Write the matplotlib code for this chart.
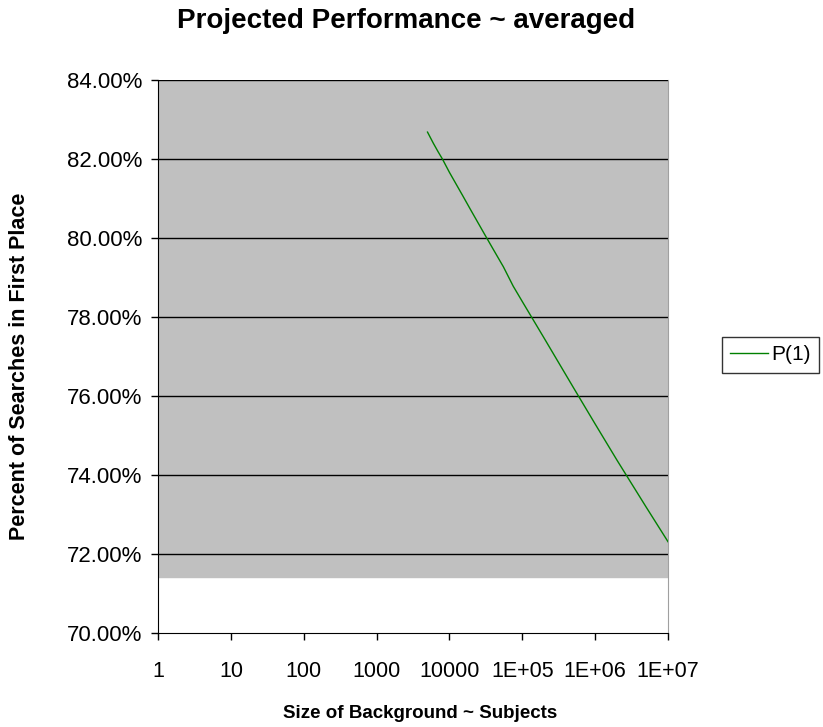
import matplotlib
matplotlib.use("Agg")
import matplotlib.pyplot as plt

plt.rcParams['font.family'] = ['Liberation Sans', 'DejaVu Sans']

# background size vs percent in first place
sizes = [5000, 6000, 7000, 8000, 10000, 15000, 20000, 30000, 40000, 55000,
         75000, 100000, 200000, 500000, 1000000, 2000000, 5000000, 10000000]
p1 = [82.68, 82.40, 82.18, 82.00, 81.66, 81.09, 80.68, 80.11, 79.71, 79.27,
      78.78, 78.39, 77.46, 76.22, 75.29, 74.37, 73.19, 72.31]

tick_vals = [1, 10, 100, 1000, 10000, 1e5, 1e6, 1e7]
tick_labels = ['1', '10', '100', '1000', '10000', '1E+05', '1E+06', '1E+07']
y_ticks = [70, 72, 74, 76, 78, 80, 82, 84]

fig = plt.figure(figsize=(8.23, 7.27), dpi=100)
ax = fig.add_axes([0.192, 0.1293, 0.6197, 0.7607])

ax.set_xscale('log')
ax.set_xlim(1, 1e7)
ax.set_ylim(70, 84)

# gray plot area (stops short of the bottom as in the original)
ax.axhspan(71.42, 84, color='#C0C0C0', zorder=0)
for y in y_ticks[1:]:
    ax.axhline(y, color='black', lw=1, zorder=1)

ax.plot(sizes, p1, color='#008000', lw=1, label='P(1)', zorder=3)

ax.set_xticks(tick_vals)
ax.set_xticklabels(tick_labels)
ax.xaxis.set_minor_locator(matplotlib.ticker.NullLocator())
ax.set_yticks(y_ticks)
ax.set_yticklabels([f'{v:.2f}%' for v in y_ticks])
ax.tick_params(direction='out', length=5, width=1, colors='black')
ax.tick_params(axis='x', labelsize=15.5, pad=15)
ax.tick_params(axis='y', labelsize=16, pad=6)

ax.spines['top'].set_visible(False)
ax.spines['right'].set_color('#A0A0A0')
ax.spines['left'].set_color('black')
ax.spines['bottom'].set_color('black')

fig.text(406 / 823, 1 - 21 / 727, 'Projected Performance ~ averaged',
         fontsize=20, fontweight='bold', ha='center', va='center')
fig.text(420 / 823, 1 - 713 / 727, 'Size of Background ~ Subjects',
         fontsize=13.5, fontweight='bold', ha='center', va='center')
fig.text(20 / 823, 1 - 366 / 727, 'Percent of Searches in First Place',
         fontsize=15.5, fontweight='bold', ha='center', va='center', rotation=90)

leg = fig.legend(loc='center left', bbox_to_anchor=(722 / 823, 1 - 355 / 727), fontsize=15,
                 frameon=True, fancybox=False, edgecolor='black',
                 handlelength=1.8, borderpad=0.4, handletextpad=0.15, borderaxespad=0)
leg.get_frame().set_linewidth(1)

fig.savefig('out.png', dpi=100)
